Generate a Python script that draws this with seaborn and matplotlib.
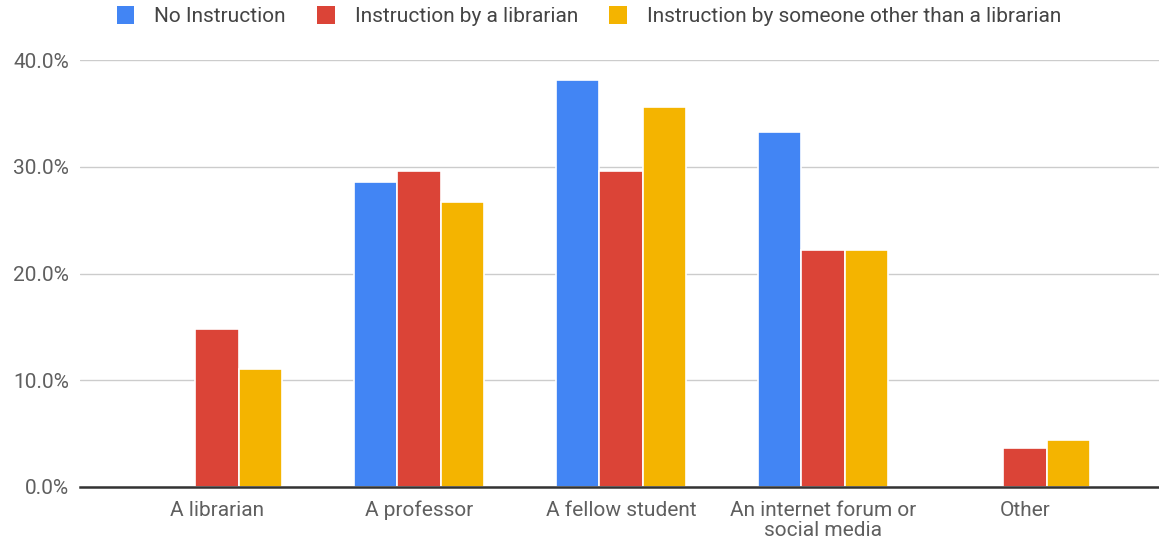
import numpy as np
import pandas as pd
import matplotlib
matplotlib.use("Agg")
import matplotlib.pyplot as plt
from matplotlib.patches import Patch
from matplotlib.ticker import FuncFormatter
import seaborn as sns

# Sources of help, share of respondents (%) per instruction group
categories = ["A librarian", "A professor", "A fellow student",
              "An internet forum or\nsocial media", "Other"]
groups = ["No Instruction", "Instruction by a librarian",
          "Instruction by someone other than a librarian"]
no_instruction = [np.nan, 28.6, 38.1, 33.3, np.nan]
by_librarian = [14.8, 29.6, 29.6, 22.2, 3.7]
by_other = [11.1, 26.7, 35.6, 22.2, 4.4]
y_ticks = [0, 10, 20, 30, 40]

colors = ["#4285F4", "#DB4437", "#F4B400"]

df = pd.DataFrame({
    "category": categories * 3,
    "group": [groups[0]] * 5 + [groups[1]] * 5 + [groups[2]] * 5,
    "value": no_instruction + by_librarian + by_other,
})

sns.set_theme(style="white")
plt.rcParams["font.family"] = ["Roboto", "DejaVu Sans"]

fig = plt.figure(figsize=(11.59, 5.40), dpi=100)
ax = fig.add_axes([80 / 1159, 1 - 487 / 540, 1 - 80 / 1159, (487 - 60) / 540])

sns.barplot(data=df, x="category", y="value", hue="group", order=categories,
            hue_order=groups, palette=colors, width=0.645, ax=ax,
            edgecolor="white", linewidth=1.2, saturation=1, legend=False)

ax.set_ylim(0, 40)
ax.set_xlim(-0.678, 4.663)
ax.set_yticks(y_ticks)
ax.yaxis.set_major_formatter(FuncFormatter(lambda v, _: f"{v:.1f}%"))
ax.set_xlabel("")
ax.set_ylabel("")
ax.grid(axis="y", color="#cccccc", linewidth=1)
ax.set_axisbelow(True)
for side in ["top", "right", "left"]:
    ax.spines[side].set_visible(False)
ax.spines["bottom"].set_color("#333333")
ax.spines["bottom"].set_linewidth(1.8)
ax.spines["bottom"].set_zorder(5)
ax.tick_params(axis="both", length=0, labelsize=15, labelcolor="#5f5f5f")
ax.tick_params(axis="y", pad=8)
ax.tick_params(axis="x", pad=10)
for lbl in ax.get_xticklabels():
    lbl.set_linespacing(1.05)

handles = [Patch(facecolor=c, edgecolor="none", label=g) for c, g in zip(colors, groups)]
fig.legend(handles=handles, loc="center", bbox_to_anchor=(0.508, 0.97), ncol=3,
           frameon=False, fontsize=15, labelcolor="#444444",
           handlelength=0.85, handleheight=0.95, handletextpad=0.95, columnspacing=1.5)

fig.savefig("out.png", dpi=100)
